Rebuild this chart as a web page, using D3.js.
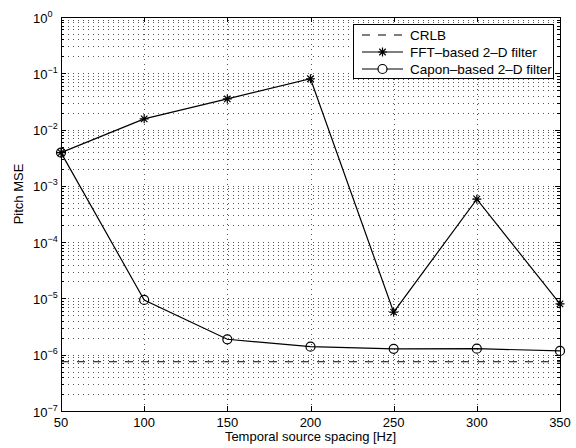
<!DOCTYPE html>
<html>
<head>
<meta charset="utf-8">
<script src="https://d3js.org/d3.v7.min.js"></script>
<style>
  body { margin: 0; background: #fff; }
  svg { display: block; font-family: "Liberation Sans", Arial, sans-serif; }
</style>
</head>
<body>
<svg id="svg"></svg>
<script>
// values
const spacing = [50, 100, 150, 200, 250, 300, 350];
const fftMSE = [3.9e-3, 1.55e-2, 3.5e-2, 8.0e-2, 5.7e-6, 5.8e-4, 8.0e-6];
const caponMSE = [3.9e-3, 9.4e-6, 1.88e-6, 1.39e-6, 1.27e-6, 1.28e-6, 1.17e-6];
const crlbMSE = [7.5e-7, 7.5e-7, 7.5e-7, 7.5e-7, 7.5e-7, 7.5e-7, 7.5e-7];
const xTicks = [50, 100, 150, 200, 250, 300, 350];
const yExponents = [0, -1, -2, -3, -4, -5, -6, -7];
const legendLabels = ['CRLB', 'FFT\u2013based 2\u2013D filter', 'Capon\u2013based 2\u2013D filter'];

const width = 576, height = 448;
const m = { left: 61, right: 16, top: 17, bottom: 37 };

const svg = d3.select('#svg')
  .attr('width', width)
  .attr('height', height);

svg.append('rect').attr('width', width).attr('height', height).attr('fill', '#fff');

const x = d3.scaleLinear().domain([50, 350]).range([m.left, width - m.right]);
const y = d3.scaleLog().domain([1e-7, 1]).range([height - m.bottom, m.top]);

const x0 = m.left, x1 = width - m.right, y0 = m.top, y1 = height - m.bottom;

// minor and major y positions
const yMinor = [];
const yMajor = yExponents.map(e => Math.pow(10, e));
for (let e = -7; e < 0; e++) {
  for (let k = 2; k <= 9; k++) yMinor.push(k * Math.pow(10, e));
}

const grid = svg.append('g')
  .attr('stroke', '#555')
  .attr('stroke-width', 1)
  .attr('stroke-dasharray', '1,4')
  .attr('shape-rendering', 'crispEdges');

grid.selectAll('.hy')
  .data(yMinor.concat(yMajor.slice(1, -1)))
  .enter().append('line')
    .attr('x1', x0 + 2).attr('x2', x1)
    .attr('y1', d => Math.round(y(d)) + 0.5)
    .attr('y2', d => Math.round(y(d)) + 0.5);

grid.selectAll('.vx')
  .data(xTicks.slice(1, -1))
  .enter().append('line')
    .attr('x1', d => Math.round(x(d)) + 0.5)
    .attr('x2', d => Math.round(x(d)) + 0.5)
    .attr('y1', y0 + 2).attr('y2', y1);

// tick marks (inside, on all four sides)
const ticks = svg.append('g')
  .attr('stroke', '#000')
  .attr('stroke-width', 1)
  .attr('shape-rendering', 'crispEdges');

xTicks.forEach(t => {
  const px = Math.round(x(t)) + 0.5;
  ticks.append('line').attr('x1', px).attr('x2', px).attr('y1', y1).attr('y2', y1 - 5);
  ticks.append('line').attr('x1', px).attr('x2', px).attr('y1', y0).attr('y2', y0 + 5);
});
yMajor.forEach(t => {
  const py = Math.round(y(t)) + 0.5;
  ticks.append('line').attr('x1', x0).attr('x2', x0 + 5).attr('y1', py).attr('y2', py);
  ticks.append('line').attr('x1', x1).attr('x2', x1 - 5).attr('y1', py).attr('y2', py);
});
yMinor.forEach(t => {
  const py = Math.round(y(t)) + 0.5;
  ticks.append('line').attr('x1', x0).attr('x2', x0 + 3).attr('y1', py).attr('y2', py);
  ticks.append('line').attr('x1', x1).attr('x2', x1 - 3).attr('y1', py).attr('y2', py);
});

// axes box
svg.append('rect')
  .attr('x', x0 + 0.5).attr('y', y0 + 0.5)
  .attr('width', x1 - x0).attr('height', y1 - y0)
  .attr('fill', 'none').attr('stroke', '#000').attr('stroke-width', 1)
  .attr('shape-rendering', 'crispEdges');

// tick labels
svg.append('g').selectAll('text')
  .data(xTicks)
  .enter().append('text')
    .attr('x', d => x(d))
    .attr('y', y1 + 16)
    .attr('text-anchor', 'middle')
    .attr('font-size', '13px')
    .text(d => d);

const yl = svg.append('g').selectAll('text')
  .data(yExponents)
  .enter().append('text')
    .attr('x', 33)
    .attr('y', d => y(Math.pow(10, d)) + 5.5)
    .attr('font-size', '13px');
yl.append('tspan').text('10');
yl.append('tspan')
  .attr('dy', -6)
  .attr('font-size', '9px')
  .text(d => d === 0 ? '0' : '\u2212' + Math.abs(d));

// axis titles
svg.append('text')
  .attr('x', (x0 + x1) / 2)
  .attr('y', 441)
  .attr('text-anchor', 'middle')
  .attr('font-size', '13px')
  .text('Temporal source spacing [Hz]');

svg.append('text')
  .attr('transform', 'translate(23,194) rotate(-90)')
  .attr('text-anchor', 'middle')
  .attr('font-size', '13px')
  .text('Pitch MSE');

// series
const line = d3.line()
  .x(d => x(d[0]))
  .y(d => y(d[1]));

const plot = svg.append('g');

plot.append('path')
  .datum(d3.zip(spacing, crlbMSE))
  .attr('d', line)
  .attr('fill', 'none').attr('stroke', '#000').attr('stroke-width', 1.2)
  .attr('stroke-dasharray', '8,8');

plot.append('path')
  .datum(d3.zip(spacing, caponMSE))
  .attr('d', line)
  .attr('fill', 'none').attr('stroke', '#000').attr('stroke-width', 1.2);

plot.append('path')
  .datum(d3.zip(spacing, fftMSE))
  .attr('d', line)
  .attr('fill', 'none').attr('stroke', '#000').attr('stroke-width', 1.2);

const starPath = r => {
  const d = r * 0.72;
  return `M${-r},0L${r},0M0,${-r}L0,${r}M${-d},${-d}L${d},${d}M${-d},${d}L${d},${-d}`;
};

plot.selectAll('.circ')
  .data(d3.zip(spacing, caponMSE))
  .enter().append('circle')
    .attr('cx', d => x(d[0])).attr('cy', d => y(d[1]))
    .attr('r', 4.5)
    .attr('fill', 'none').attr('stroke', '#000').attr('stroke-width', 1.2);

plot.selectAll('.star')
  .data(d3.zip(spacing, fftMSE))
  .enter().append('path')
    .attr('transform', d => `translate(${x(d[0])},${y(d[1])})`)
    .attr('d', starPath(4.5))
    .attr('fill', 'none').attr('stroke', '#000').attr('stroke-width', 1.2);

// legend
const lg = svg.append('g');
lg.append('rect')
  .attr('x', 353.5).attr('y', 24.5)
  .attr('width', 200).attr('height', 54)
  .attr('fill', '#fff').attr('stroke', '#000').attr('stroke-width', 1)
  .attr('shape-rendering', 'crispEdges');

const rows = [35, 52, 69];
legendLabels.forEach((label, i) => {
  const ry = rows[i];
  lg.append('line')
    .attr('x1', 362).attr('x2', 403).attr('y1', ry).attr('y2', ry)
    .attr('stroke', '#000').attr('stroke-width', 1.2)
    .attr('stroke-dasharray', i === 0 ? '8,8' : null);
  if (i === 1) {
    lg.append('path')
      .attr('transform', `translate(382.5,${ry})`)
      .attr('d', starPath(4.5))
      .attr('fill', 'none').attr('stroke', '#000').attr('stroke-width', 1.2);
  }
  if (i === 2) {
    lg.append('circle')
      .attr('cx', 382.5).attr('cy', ry).attr('r', 4.5)
      .attr('fill', '#fff').attr('stroke', '#000').attr('stroke-width', 1.2);
  }
  lg.append('text')
    .attr('x', 410).attr('y', ry + 4.5)
    .attr('font-size', '13.5px')
    .text(label);
});
</script>
</body>
</html>
